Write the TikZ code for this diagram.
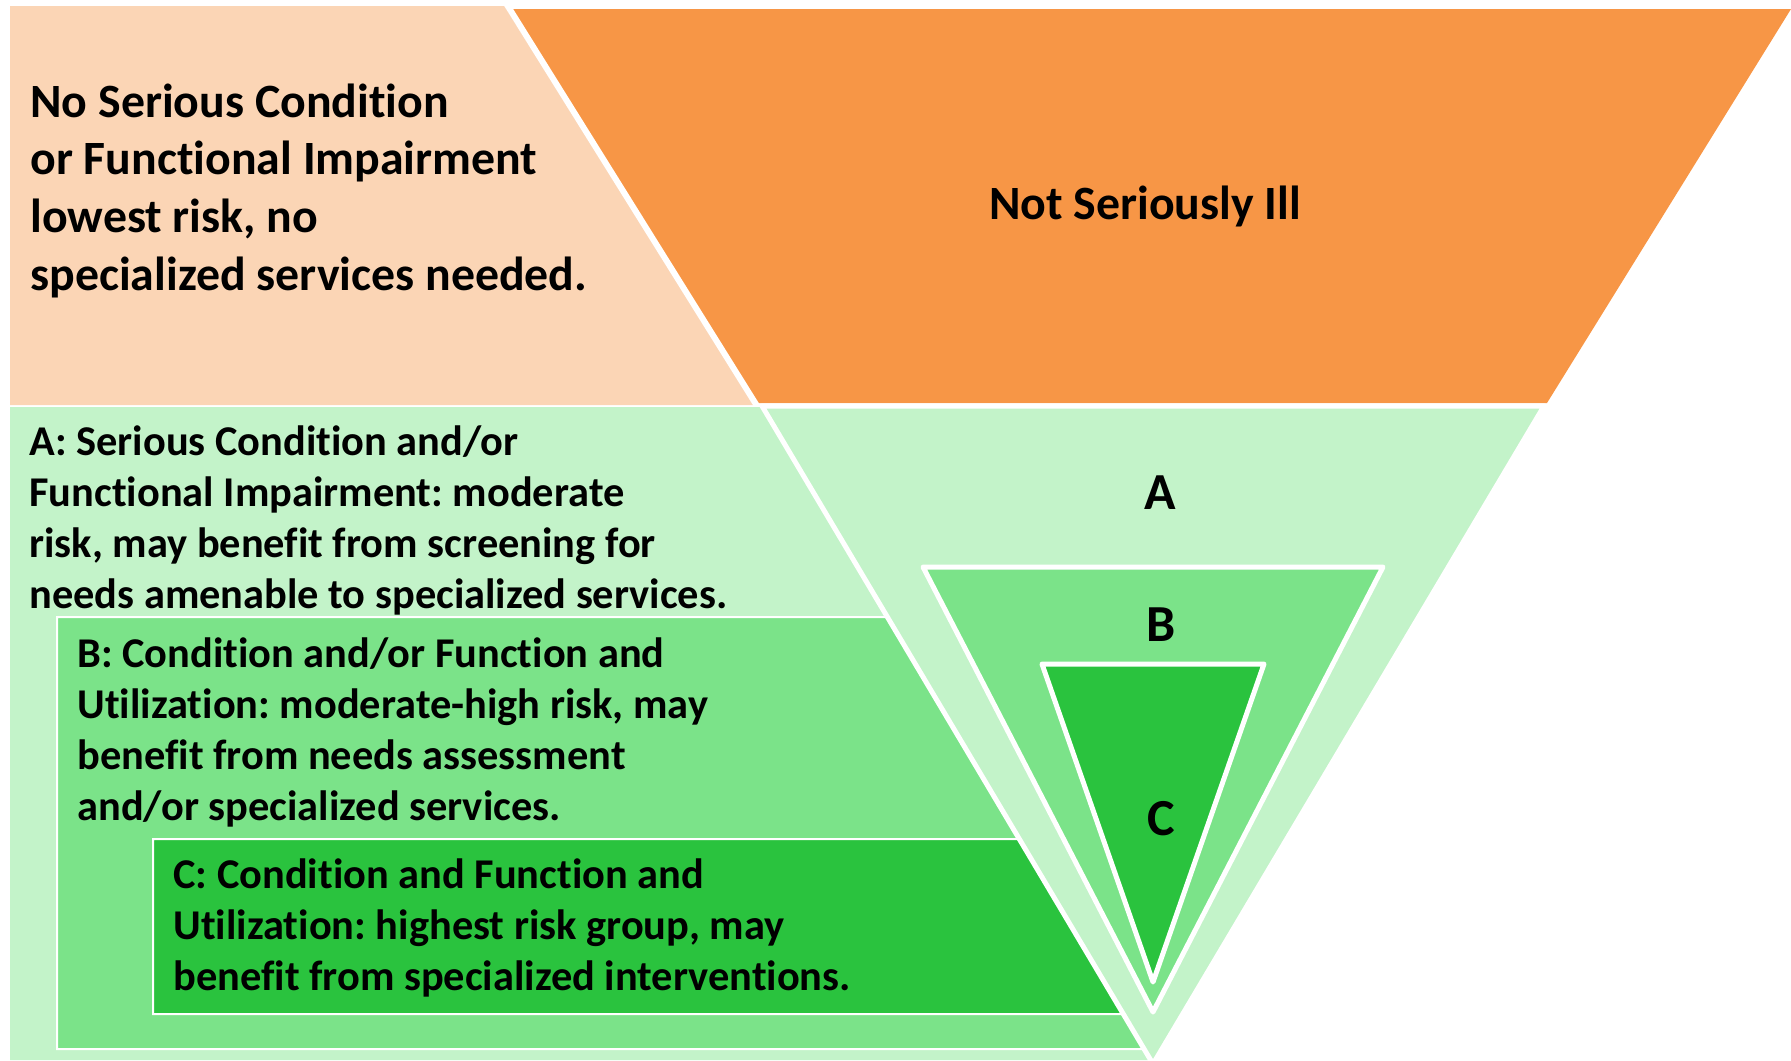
\documentclass[tikz,border=0pt]{standalone}
\usepackage{fontspec}
\setmainfont{Carlito}[Ligatures=NoCommon]
\definecolor{peach}{HTML}{FBD5B5}
\definecolor{orng}{HTML}{F79646}
\definecolor{lgreen}{HTML}{C3F3C9}
\definecolor{mgreen}{HTML}{7BE389}
\definecolor{dgreen}{HTML}{2AC33E}
\begin{document}
\frenchspacing
\begin{tikzpicture}[x=0.5pt,y=-0.5pt,
  txt/.style={anchor=base west,inner sep=0pt,font=\bfseries\fontsize{21.2}{25.6}\selectfont},
  toptxt/.style={anchor=base west,inner sep=0pt,font=\bfseries\fontsize{23.9}{28.85}\selectfont},
  biglabel/.style={inner sep=0pt,font=\bfseries\fontsize{26}{30}\selectfont},
  tri/.style={draw=white,line width=2.5pt,line join=round},
  band/.style={draw=white,line width=1pt}]
\useasboundingbox (0,0) rectangle (1791,1060);
% top band
\fill[peach] (10,6) -- (506.5,6) -- (756.5,405) -- (10,405) -- cycle;
\fill[orng] (506.5,9) -- (1791,9) -- (1547,403) -- (755.2,403) -- cycle;
\draw[white,line width=3pt] (506.5,4) -- (757.7,407);
% left light green area
\fill[lgreen] (10,407) -- (766,407) -- (1153,1060) -- (10,1060) -- cycle;
% B and C bands
\filldraw[mgreen,band] (57,617) -- (892,617) -- (1149,1049) -- (57,1049) -- cycle;
\filldraw[dgreen,band] (153,839) -- (1024,839) -- (1128,1014) -- (153,1014) -- cycle;
% nested triangles
\filldraw[lgreen,tri] (762,406) -- (1544,406) -- (1153,1064) -- cycle;
\filldraw[mgreen,tri] (923,567) -- (1383,567) -- (1153,1012) -- cycle;
\filldraw[dgreen,tri] (1042,664) -- (1264,664) -- (1153,982) -- cycle;
% texts
\node[toptxt] (t0) at (30,117) {\begin{tabular}[t]{@{}l@{}}No Serious Condition\\or Functional Impairment\\lowest risk, no\\specialized services needed.\end{tabular}};
\node[toptxt,anchor=center] (nsi) at (1145,206) {Not Seriously Ill};
\node[txt] (ta) at (29,455) {\begin{tabular}[t]{@{}l@{}}A: Serious Condition and/or\\Functional Impairment: moderate\\risk, may benefit from screening for\\needs amenable to specialized services.\end{tabular}};
\node[txt] (tb) at (77,667) {\begin{tabular}[t]{@{}l@{}}B: Condition and/or Function and\\Utilization: moderate-high risk, may\\benefit from needs assessment\\and/or specialized services.\end{tabular}};
\node[txt] (tc) at (173,888) {\begin{tabular}[t]{@{}l@{}}C: Condition and Function and\\Utilization: highest risk group, may\\benefit from specialized interventions.\end{tabular}};
\node[biglabel] (la) at (1160,493) {A};
\node[biglabel] (lb) at (1161,625) {B};
\node[biglabel] (lc) at (1161,819) {C};
\end{tikzpicture}
\end{document}
